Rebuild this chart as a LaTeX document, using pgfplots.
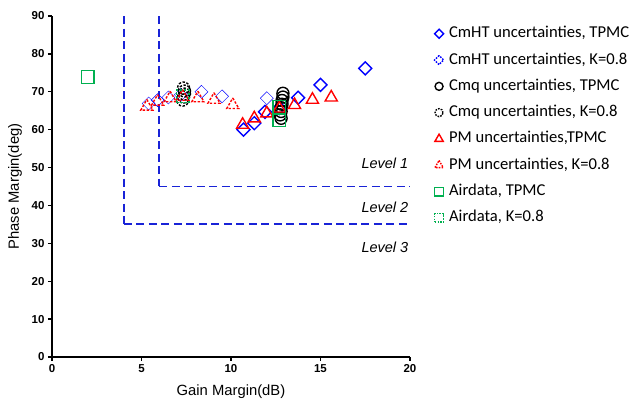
\documentclass[border=0pt]{standalone}
\usepackage{fontspec}
\setmainfont{Liberation Sans}
\newfontfamily\calfont{Carlito}
\usepackage{pgfplots}
\pgfplotsset{compat=1.18}
\definecolor{xlgreen}{RGB}{0,176,80}
\definecolor{xlblue}{RGB}{0,0,255}
\definecolor{xlred}{RGB}{255,0,0}
\definecolor{lvlblue}{RGB}{25,35,215}
\pgfplotsset{
  dmd/.style={only marks, mark=square, mark size=4.6pt, mark options={rotate=45, solid, line width=1.4pt, fill=none}, draw=xlblue, color=xlblue},
  crc/.style={only marks, mark=o, mark size=6pt, mark options={solid, line width=1.4pt}, color=black},
  tri/.style={only marks, mark=triangle, mark size=7pt, mark options={solid, line width=1.4pt}, color=xlred},
  sqr/.style={only marks, mark=square, mark size=6.3pt, mark options={solid, line width=1.4pt}, color=xlgreen},
  dsh/.style={mark options={dash pattern=on 2.4pt off 1.6pt, line width=1.4pt}},
  lvl/.style={forget plot, no marks, draw=lvlblue, color=lvlblue, line width=1.9pt, dash pattern=on 8pt off 4.5pt},
}
\begin{document}
\begin{tikzpicture}
\begin{axis}[
  scale only axis, width=358pt, height=341pt,
  xmin=0, xmax=20, ymin=0, ymax=90,
  axis lines*=left,
  axis line style={line width=1.3pt, black},
  xtick={0,5,...,20}, ytick={0,10,...,90},
  tick align=outside, major tick length=4pt,
  tick style={black, line width=1.3pt},
  ticklabel style={font=\bfseries\fontsize{11.5}{13}\selectfont},
  /pgf/number format/assume math mode=true,
  xlabel={Gain Margin(dB)}, ylabel={Phase Margin(deg)},
  label style={font=\fontsize{14.8}{16}\selectfont},
  xlabel style={at={(axis description cs:0.5,-0.103)}, anchor=center},
  ylabel style={at={(axis description cs:-0.103,0.5)}, anchor=center},
  clip=false,
  legend style={at={(1.068,0.972)}, anchor=north west, draw=none, fill=none,
    font=\calfont\fontsize{16.6}{18}\selectfont, inner sep=0pt,
    nodes={inner sep=0pt, text height=12pt, text depth=4pt},
    row sep=10.3pt, column sep=5.5pt},
  legend cell align=left,
]
% level boundaries
\addplot[lvl] coordinates {(6,90) (6,45)};
\addplot[lvl] coordinates {(6,45) (20,45)};
\addplot[lvl] coordinates {(4.015,90) (4.015,35)};
\addplot[lvl] coordinates {(4.015,35) (20,35)};
\node[anchor=east, font=\itshape\fontsize{14.5}{16}\selectfont] at (axis cs:20.1,51.1) {Level 1};
\node[anchor=east, font=\itshape\fontsize{14.5}{16}\selectfont] at (axis cs:20.1,39.6) {Level 2};
\node[anchor=east, font=\itshape\fontsize{14.5}{16}\selectfont] at (axis cs:20.1,28.9) {Level 3};

% CmHT TPMC
\addplot[dmd, forget plot] coordinates {(10.7,60.0) (11.3,61.7) (11.9,64.7) (12.7,65.7) (13.75,68.4) (15.0,71.8) (17.5,76.2)};
% CmHT K=0.8
\addplot[dmd, dsh, mark options={rotate=45}, forget plot] coordinates {(5.4,66.9) (5.9,67.8) (6.5,68.5) (7.2,69.2) (8.35,70.0) (9.5,68.8) (12.0,68.3)};
% Cmq TPMC
\addplot[crc, forget plot] coordinates {(12.8,63.0) (12.75,63.9) (12.8,64.8) (12.8,65.8) (12.85,66.7) (12.85,67.7) (12.9,68.6) (12.9,69.6)};
% Cmq K=0.8
\addplot[crc, dsh, forget plot] coordinates {(7.3,67.8) (7.35,68.6) (7.4,69.4) (7.4,70.2) (7.35,71.0)};
% PM TPMC
\addplot[tri, forget plot] coordinates {(10.65,61.3) (11.3,63.0) (12.0,64.3) (12.7,65.6) (13.55,66.5) (14.55,67.9) (15.6,68.5)};
% PM K=0.8
\addplot[tri, dsh, forget plot] coordinates {(5.3,66.1) (5.9,67.4) (6.6,68.3) (7.3,68.7) (8.15,68.3) (9.05,67.9) (10.1,66.5)};
% Airdata TPMC
\addplot[sqr, forget plot] coordinates {(2.0,73.9) (12.7,66.0) (12.7,62.5)};
% Airdata K=0.8
\addplot[sqr, dsh, forget plot] coordinates {(7.3,68.8)};

\addlegendimage{only marks, mark=square, mark size=3.2pt, mark options={rotate=45, solid, line width=1.4pt}, color=xlblue}
\addlegendentry{CmHT uncertainties, TPMC}
\addlegendimage{only marks, mark=square, mark size=3.2pt, mark options={rotate=45, dash pattern=on 1.6pt off 1.2pt, line width=1.4pt}, color=xlblue}
\addlegendentry{CmHT uncertainties, K=0.8}
\addlegendimage{only marks, mark=o, mark size=4pt, mark options={solid, line width=1.4pt}, color=black}
\addlegendentry{Cmq uncertainties, TPMC}
\addlegendimage{only marks, mark=o, mark size=4pt, mark options={dash pattern=on 1.6pt off 1.2pt, line width=1.4pt}, color=black}
\addlegendentry{Cmq uncertainties, K=0.8}
\addlegendimage{only marks, mark=triangle, mark size=4.8pt, mark options={solid, line width=1.4pt}, color=xlred}
\addlegendentry{PM uncertainties,TPMC}
\addlegendimage{only marks, mark=triangle, mark size=4.8pt, mark options={dash pattern=on 1.6pt off 1.2pt, line width=1.4pt}, color=xlred}
\addlegendentry{PM uncertainties, K=0.8}
\addlegendimage{only marks, mark=square, mark size=4.3pt, mark options={solid, line width=1.4pt}, color=xlgreen}
\addlegendentry{Airdata, TPMC}
\addlegendimage{only marks, mark=square, mark size=4.3pt, mark options={dash pattern=on 1.6pt off 1.2pt, line width=1.4pt}, color=xlgreen}
\addlegendentry{Airdata, K=0.8}
\end{axis}
\pgfresetboundingbox
\path (-52pt,-46pt) rectangle (578pt,357pt);
\end{tikzpicture}
\end{document}
